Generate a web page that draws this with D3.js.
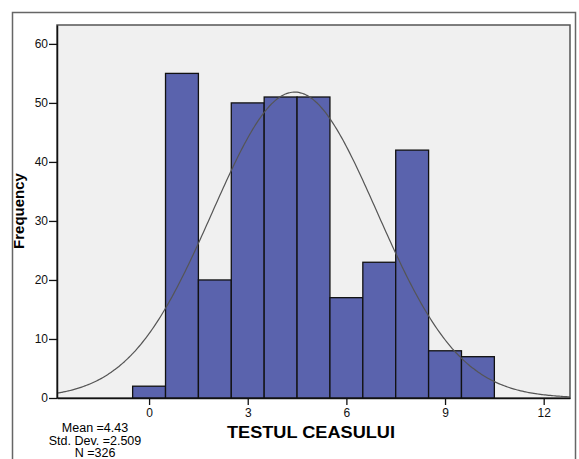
<!DOCTYPE html>
<html>
<head>
<meta charset="utf-8">
<script src="https://cdn.jsdelivr.net/npm/d3@7"></script>
<style>
  body { margin: 0; background: #fff; }
  text { font-family: "Liberation Sans", Arial, sans-serif; }
</style>
</head>
<body>
<div id="chart"></div>
<script>
// histogram of TESTUL CEASULUI
const scores = [0, 1, 2, 3, 4, 5, 6, 7, 8, 9, 10];
const counts = [2, 55, 20, 50, 51, 51, 17, 23, 42, 8, 7];
const xTicks = [0, 3, 6, 9, 12];
const yTicks = [0, 10, 20, 30, 40, 50, 60];
const mean = 4.43, sd = 2.509, n = 326;
const statLines = ['Mean =4.43', 'Std. Dev. =2.509', 'N =326'];

const width = 579, height = 459;
const plot = {left: 57, top: 25, right: 570, bottom: 398};

const svg = d3.select('#chart').append('svg')
    .attr('width', width)
    .attr('height', height);

// outer frame
svg.append('rect')
    .attr('x', 12.5).attr('y', 12.5)
    .attr('width', 563).attr('height', 460)
    .attr('fill', 'none')
    .attr('stroke', '#666')
    .attr('stroke-width', 1.5);

const xScale = d3.scaleLinear()
    .domain([-2.8, 12.8])
    .range([plot.left, plot.right]);
const yScale = d3.scaleLinear()
    .domain([0, 63.2])
    .range([plot.bottom, plot.top]);

// plot background
svg.append('rect')
    .attr('x', plot.left).attr('y', plot.top)
    .attr('width', plot.right - plot.left)
    .attr('height', plot.bottom - plot.top)
    .attr('fill', '#f0f0f0')
    .attr('stroke', '#555')
    .attr('stroke-width', 1.5);

// bars
svg.append('g').selectAll('rect')
    .data(scores)
    .join('rect')
    .attr('x', (d) => xScale(d - 0.5))
    .attr('y', (d, i) => yScale(counts[i]))
    .attr('width', (d) => xScale(d + 0.5) - xScale(d - 0.5))
    .attr('height', (d, i) => yScale(0) - yScale(counts[i]))
    .attr('fill', '#5a63ad')
    .attr('stroke', '#111')
    .attr('stroke-width', 1.3);

// normal curve from mean / sd / N
const xs = d3.range(-2.8, 12.81, 0.05);
const normal = (x) => n / (sd * Math.sqrt(2 * Math.PI)) * Math.exp(-0.5 * ((x - mean) / sd) ** 2);
const lineGen = d3.line()
    .curve(d3.curveBasis)
    .x(d => xScale(d))
    .y(d => yScale(normal(d)));
svg.append('path')
    .datum(xs)
    .attr('fill', 'none')
    .attr('stroke', '#555')
    .attr('stroke-width', 1.2)
    .attr('d', lineGen);

// axes
const yAxis = svg.append('g')
    .attr('transform', `translate(${plot.left},0)`)
    .call(d3.axisLeft(yScale).tickValues(yTicks).tickSize(8).tickSizeOuter(0).tickPadding(1));
const xAxis = svg.append('g')
    .attr('transform', `translate(0,${plot.bottom})`)
    .call(d3.axisBottom(xScale).tickValues(xTicks).tickSize(7).tickSizeOuter(0).tickPadding(3));
[xAxis, yAxis].forEach(ax => {
    ax.select('.domain').attr('stroke', '#111').attr('stroke-width', 1.5);
    ax.selectAll('.tick line').attr('stroke', '#111').attr('stroke-width', 1.3);
    ax.selectAll('.tick text')
        .attr('fill', '#111')
        .style('font-family', '"Liberation Sans", Arial, sans-serif')
        .style('font-size', '12px');
});

// labels
svg.append('text')
    .attr('transform', 'translate(24,211) rotate(-90)')
    .attr('text-anchor', 'middle')
    .style('font-size', '15px')
    .style('font-weight', 'bold')
    .text('Frequency');

svg.append('text')
    .attr('x', 311).attr('y', 438)
    .attr('text-anchor', 'middle')
    .attr('textLength', 168)
    .attr('lengthAdjust', 'spacingAndGlyphs')
    .style('font-size', '16.5px')
    .style('font-weight', 'bold')
    .text('TESTUL CEASULUI');

svg.append('g').selectAll('text')
    .data(statLines)
    .join('text')
    .attr('x', 95)
    .attr('y', (d, i) => 432 + i * 12.5)
    .attr('text-anchor', 'middle')
    .style('font-size', '12.5px')
    .text(d => d);
</script>
</body>
</html>
